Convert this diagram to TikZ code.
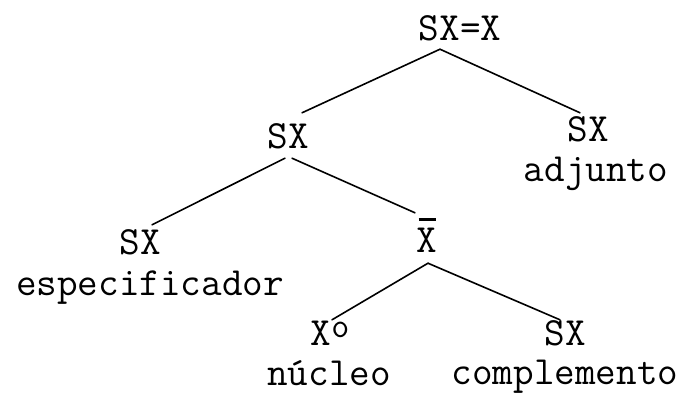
\documentclass[tikz,border=0pt]{standalone}
\usepackage{fontspec}

\begin{document}
\begin{tikzpicture}[x=1pt, y=-1pt,
    cat/.style={font=\ttfamily\fontsize{40}{44}\selectfont, inner sep=0pt,
      text height=23pt, text depth=0pt, anchor=base},
    role/.style={font=\ttfamily\fontsize{40}{44}\selectfont, inner sep=0pt, anchor=base},
    branch/.style={line width=1.6pt, line cap=round}]
  \useasboundingbox (0,0) rectangle (691,394);

  % categories: each node sits on the baseline of its text
  \node[cat] (root) at (460,40)  {SX=X};
  \node[cat] (spx)  at (288,148) {SX};
  \node[cat] (adj)  at (588,141) {SX};
  \node[cat] (spec) at (140,254) {SX};
  \node[cat] (xbar) at (427,252) {\rlap{\hspace{2pt}\rule[31pt]{17pt}{2.6pt}}X};
  \node[cat] (head) at (330,345) {X\raisebox{8pt}{\fontsize{35}{38}\selectfont o}};
  \node[cat] (comp) at (565,345) {SX};

  % functions written under their categories
  \node[role] (adjl)  at (596,181) {adjunto};
  \node[role] (specl) at (150,295) {especificador};
  \node[role] (headl) at (329,385) {núcleo};
  \node[role] (compl) at (565,384) {complemento};

  % branches
  \draw[branch] ([shift={(-20,9)}]root.south) -- ([shift={(14,-12)}]spx.north);
  \draw[branch] ([shift={(-20,9)}]root.south) -- ([shift={(-8,-5)}]adj.north);
  \draw[branch] ([shift={(-3,10)}]spx.south) -- ([shift={(12,-6)}]spec.north);
  \draw[branch] ([shift={(4,10)}]spx.south) -- ([shift={(-12,-16)}]xbar.north);
  \draw[branch] ([shift={(1,11)}]xbar.south) -- ([shift={(2,-2)}]head.north);
  \draw[branch] ([shift={(1,11)}]xbar.south) -- ([shift={(-5,-2)}]comp.north);
\end{tikzpicture}
\end{document}
